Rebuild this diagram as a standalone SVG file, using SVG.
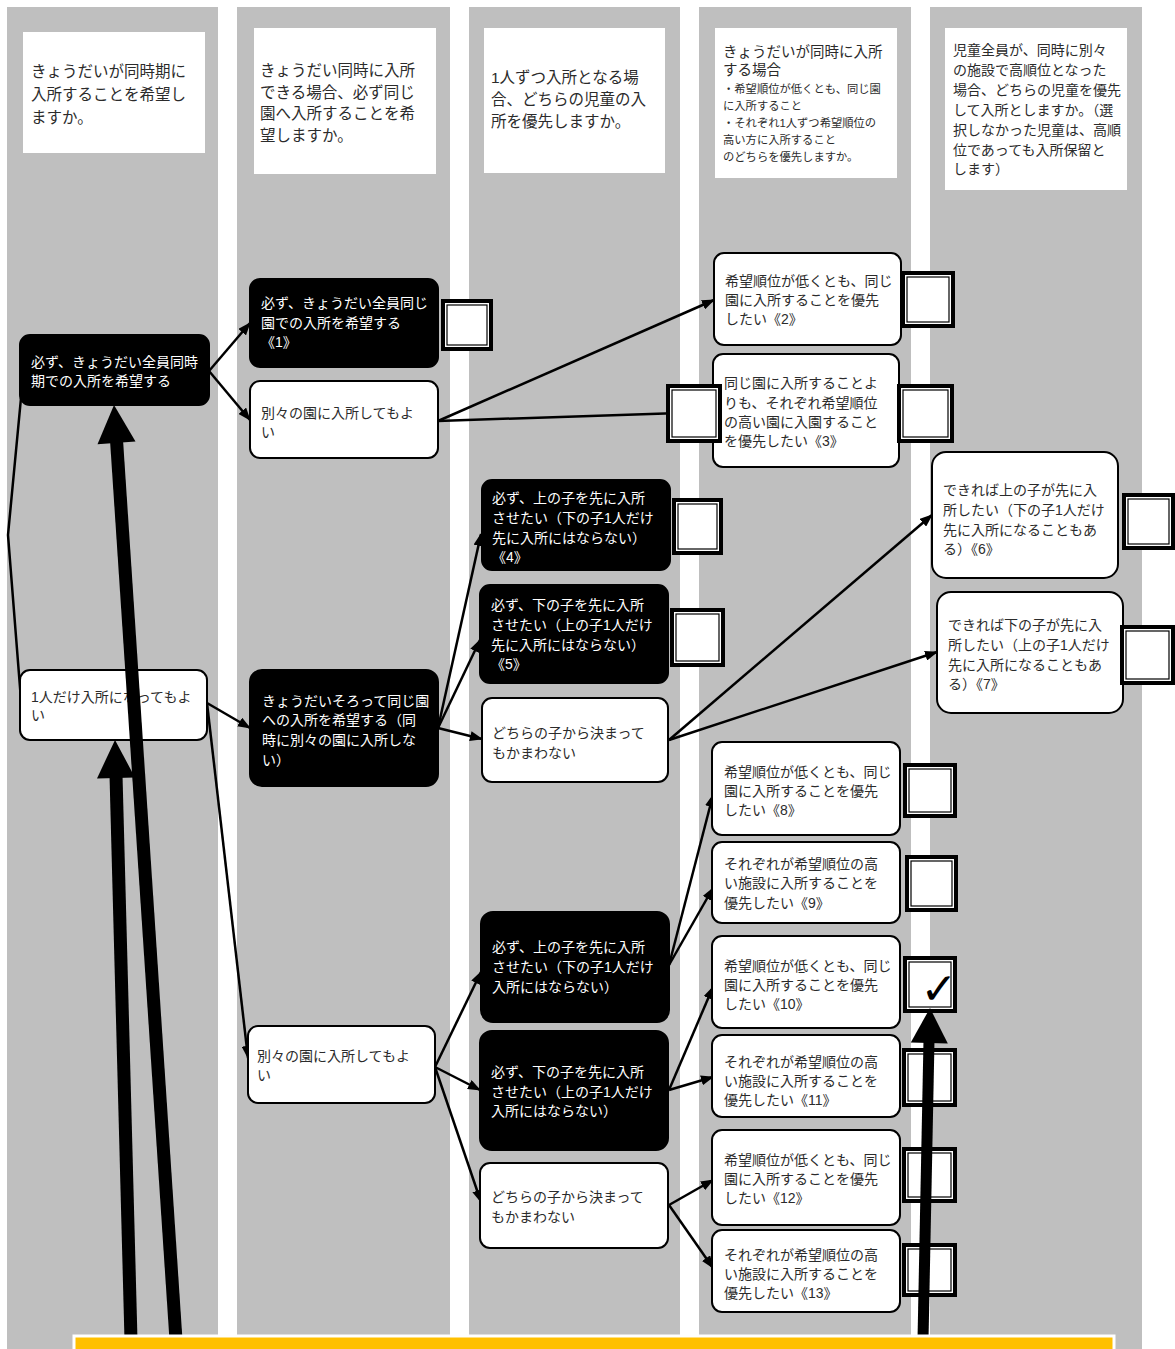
<svg xmlns="http://www.w3.org/2000/svg" width="1175" height="1349" viewBox="0 0 1175 1349">
<style>
text{font-family:'Liberation Sans','Noto Sans CJK JP',sans-serif;}
.lane{fill:#bfbfbf;}
.hdr{fill:#fff;}
.ht{font-size:15.5px;fill:#2b2b2b;}
.ht5{font-size:14px;fill:#2b2b2b;}
.hs{font-size:11.3px;fill:#2b2b2b;}
.nw{fill:#fff;stroke:#000;stroke-width:2;}
.nb{fill:#000;stroke:#000;stroke-width:2;}
.tw{font-size:14px;fill:#2b2b2b;}
.tb{font-size:14px;fill:#fff;}
.con{fill:none;stroke:#000;stroke-width:2.5;}
.arr{marker-end:url(#ah);}
.cbo{fill:#000;}
.cbw{fill:#fff;}
.cbi{fill:#fff;stroke:#000;stroke-width:1.2;}
.big{stroke:#000;stroke-width:13;fill:none;}
</style>
<defs>
<marker id="ah" markerUnits="userSpaceOnUse" markerWidth="13" markerHeight="10" refX="12" refY="5" orient="auto">
<path d="M0,0 L13,5 L0,10 z" fill="#000"/>
</marker>
</defs>
<rect x="0" y="0" width="1175" height="1349" fill="#fff"/>
<g id="lanes">
<rect class="lane" x="7" y="7" width="211" height="1342"/>
<rect class="lane" x="237" y="7" width="213" height="1342"/>
<rect class="lane" x="469" y="7" width="211" height="1342"/>
<rect class="lane" x="699" y="7" width="212" height="1342"/>
<rect class="lane" x="930" y="7" width="212" height="1342"/>
</g>
<g id="header1">
<rect class="hdr" x="23" y="32" width="182" height="121"/>
<text class="ht"><tspan x="31" y="76.5">きょうだいが同時期に</tspan><tspan x="31" y="99.5">入所することを希望し</tspan><tspan x="31" y="122.5">ますか。</tspan></text>
</g>
<g id="header2">
<rect class="hdr" x="254" y="28" width="182" height="146"/>
<text class="ht"><tspan x="260" y="76">きょうだい同時に入所</tspan><tspan x="260" y="97.5">できる場合、必ず同じ</tspan><tspan x="260" y="119">園へ入所することを希</tspan><tspan x="260" y="140.5">望しますか。</tspan></text>
</g>
<g id="header3">
<rect class="hdr" x="484" y="28" width="181" height="145"/>
<text class="ht"><tspan x="491" y="82.5">1人ずつ入所となる場</tspan><tspan x="491" y="104.5">合、どちらの児童の入</tspan><tspan x="491" y="127">所を優先しますか。</tspan></text>
</g>
<g id="header4">
<rect class="hdr" x="715" y="28" width="182" height="150"/>
<text class="ht5" style="font-size:14.5px"><tspan x="723" y="57">きょうだいが同時に入所</tspan><tspan x="723" y="75">する場合</tspan></text>
<text class="hs"><tspan x="723" y="93">・希望順位が低くとも、同じ園</tspan><tspan x="723" y="110">に入所すること</tspan><tspan x="723" y="127">・それぞれ1人ずつ希望順位の</tspan><tspan x="723" y="144">高い方に入所すること</tspan><tspan x="723" y="161">のどちらを優先しますか。</tspan></text>
</g>
<g id="header5">
<rect class="hdr" x="945" y="28" width="182" height="162"/>
<text class="ht5"><tspan x="953" y="55">児童全員が、同時に別々</tspan><tspan x="953" y="75">の施設で高順位となった</tspan><tspan x="953" y="95">場合、どちらの児童を優先</tspan><tspan x="953" y="115">して入所としますか。（選</tspan><tspan x="953" y="135">択しなかった児童は、高順</tspan><tspan x="953" y="155">位であっても入所保留と</tspan><tspan x="953" y="174">します）</tspan></text>
</g>
<g id="connectors">
<line class="con arr" x1="209" y1="371" x2="250" y2="323"/>
<line class="con arr" x1="209" y1="371" x2="250" y2="420"/>
<line class="con arr" x1="438" y1="421" x2="714" y2="300"/>
<line class="con" x1="438" y1="421" x2="680" y2="413"/>
<polyline class="con" points="21,398 8,535 21,700"/>
<line class="con arr" x1="207" y1="703" x2="250" y2="728"/>
<line class="con arr" x1="207" y1="703" x2="248" y2="1058"/>
<line class="con arr" x1="438" y1="728" x2="481" y2="534"/>
<line class="con arr" x1="438" y1="728" x2="480" y2="640"/>
<line class="con arr" x1="438" y1="728" x2="482" y2="739"/>
<line class="con arr" x1="669" y1="740" x2="932" y2="515"/>
<line class="con arr" x1="669" y1="740" x2="937" y2="652"/>
<line class="con arr" x1="435" y1="1067" x2="481" y2="972"/>
<line class="con arr" x1="435" y1="1067" x2="480" y2="1090"/>
<line class="con arr" x1="435" y1="1067" x2="481" y2="1202"/>
<line class="con arr" x1="669" y1="965" x2="713" y2="795"/>
<line class="con arr" x1="669" y1="965" x2="713" y2="888"/>
<line class="con arr" x1="669" y1="1090" x2="713" y2="987"/>
<line class="con arr" x1="669" y1="1090" x2="713" y2="1077"/>
<line class="con arr" x1="669" y1="1205" x2="713" y2="1180"/>
<line class="con arr" x1="669" y1="1205" x2="713" y2="1268"/>
</g>
<g id="n-sametime">
<rect class="nb" x="20" y="335" width="189" height="70" rx="10"/>
<text class="tb"><tspan x="31" y="367">必ず、きょうだい全員同時</tspan><tspan x="31" y="386">期での入所を希望する</tspan></text>
</g>
<g id="n-oneok">
<rect class="nw" x="20" y="670" width="187" height="70" rx="10"/>
<text class="tw"><tspan x="31" y="702">1人だけ入所になってもよ</tspan><tspan x="31" y="720">い</tspan></text>
</g>
<g id="n1">
<rect class="nb" x="250" y="279" width="188" height="88" rx="10"/>
<text class="tb"><tspan x="261" y="308">必ず、きょうだい全員同じ</tspan><tspan x="261" y="328">園での入所を希望する</tspan><tspan x="261" y="347">《1》</tspan></text>
</g>
<g id="n-betsu1">
<rect class="nw" x="250" y="381" width="188" height="77" rx="10"/>
<text class="tw"><tspan x="261" y="418">別々の園に入所してもよ</tspan><tspan x="261" y="437">い</tspan></text>
</g>
<g id="n2">
<rect class="nw" x="714" y="253" width="187" height="92" rx="10"/>
<text class="tw"><tspan x="725" y="286">希望順位が低くとも、同じ</tspan><tspan x="725" y="305">園に入所することを優先</tspan><tspan x="725" y="324">したい《2》</tspan></text>
</g>
<g id="n3">
<rect class="nw" x="713" y="354" width="186" height="113" rx="10"/>
<text class="tw"><tspan x="724" y="388">同じ園に入所することよ</tspan><tspan x="724" y="408">りも、それぞれ希望順位</tspan><tspan x="724" y="427">の高い園に入園すること</tspan><tspan x="724" y="446">を優先したい《3》</tspan></text>
</g>
<g id="n-sorotte">
<rect class="nb" x="250" y="670" width="188" height="116" rx="12"/>
<text class="tb"><tspan x="262" y="706">きょうだいそろって同じ園</tspan><tspan x="262" y="725">への入所を希望する（同</tspan><tspan x="262" y="745">時に別々の園に入所しな</tspan><tspan x="262" y="765">い）</tspan></text>
</g>
<g id="n4">
<rect class="nb" x="482" y="480" width="188" height="90" rx="10"/>
<text class="tb"><tspan x="492" y="503">必ず、上の子を先に入所</tspan><tspan x="492" y="523">させたい（下の子1人だけ</tspan><tspan x="492" y="543">先に入所にはならない）</tspan><tspan x="492" y="562">《4》</tspan></text>
</g>
<g id="n5">
<rect class="nb" x="480" y="585" width="188" height="98" rx="10"/>
<text class="tb"><tspan x="491" y="610">必ず、下の子を先に入所</tspan><tspan x="491" y="630">させたい（上の子1人だけ</tspan><tspan x="491" y="650">先に入所にはならない）</tspan><tspan x="491" y="669">《5》</tspan></text>
</g>
<g id="n-dochira1">
<rect class="nw" x="482" y="698" width="186" height="84" rx="10"/>
<text class="tw"><tspan x="492" y="738">どちらの子から決まって</tspan><tspan x="492" y="758">もかまわない</tspan></text>
</g>
<g id="n6">
<rect class="nw" x="932" y="452" width="186" height="126" rx="14"/>
<text class="tw"><tspan x="943" y="495">できれば上の子が先に入</tspan><tspan x="943" y="515">所したい（下の子1人だけ</tspan><tspan x="943" y="535">先に入所になることもあ</tspan><tspan x="943" y="554">る）《6》</tspan></text>
</g>
<g id="n7">
<rect class="nw" x="937" y="592" width="186" height="121" rx="14"/>
<text class="tw"><tspan x="948" y="630">できれば下の子が先に入</tspan><tspan x="948" y="650">所したい（上の子1人だけ</tspan><tspan x="948" y="670">先に入所になることもあ</tspan><tspan x="948" y="689">る）《7》</tspan></text>
</g>
<g id="n-betsu2">
<rect class="nw" x="248" y="1026" width="187" height="77" rx="10"/>
<text class="tw"><tspan x="257" y="1061">別々の園に入所してもよ</tspan><tspan x="257" y="1080">い</tspan></text>
</g>
<g id="n-ue">
<rect class="nb" x="481" y="912" width="188" height="110" rx="12"/>
<text class="tb"><tspan x="492" y="952">必ず、上の子を先に入所</tspan><tspan x="492" y="972">させたい（下の子1人だけ</tspan><tspan x="492" y="992">入所にはならない）</tspan></text>
</g>
<g id="n-shita">
<rect class="nb" x="480" y="1031" width="188" height="119" rx="12"/>
<text class="tb"><tspan x="491" y="1077">必ず、下の子を先に入所</tspan><tspan x="491" y="1097">させたい（上の子1人だけ</tspan><tspan x="491" y="1116">入所にはならない）</tspan></text>
</g>
<g id="n-dochira2">
<rect class="nw" x="480" y="1163" width="188" height="85" rx="10"/>
<text class="tw"><tspan x="491" y="1202">どちらの子から決まって</tspan><tspan x="491" y="1222">もかまわない</tspan></text>
</g>
<g id="n8">
<rect class="nw" x="712" y="742" width="188" height="93" rx="10"/>
<text class="tw"><tspan x="724" y="777">希望順位が低くとも、同じ</tspan><tspan x="724" y="796">園に入所することを優先</tspan><tspan x="724" y="815">したい《8》</tspan></text>
</g>
<g id="n9">
<rect class="nw" x="712" y="842" width="188" height="81" rx="10"/>
<text class="tw"><tspan x="724" y="869">それぞれが希望順位の高</tspan><tspan x="724" y="888">い施設に入所することを</tspan><tspan x="724" y="908">優先したい《9》</tspan></text>
</g>
<g id="n10">
<rect class="nw" x="712" y="936" width="188" height="92" rx="10"/>
<text class="tw"><tspan x="724" y="971">希望順位が低くとも、同じ</tspan><tspan x="724" y="990">園に入所することを優先</tspan><tspan x="724" y="1009">したい《10》</tspan></text>
</g>
<g id="n11">
<rect class="nw" x="712" y="1035" width="188" height="82" rx="10"/>
<text class="tw"><tspan x="724" y="1067">それぞれが希望順位の高</tspan><tspan x="724" y="1086">い施設に入所することを</tspan><tspan x="724" y="1105">優先したい《11》</tspan></text>
</g>
<g id="n12">
<rect class="nw" x="712" y="1130" width="188" height="95" rx="10"/>
<text class="tw"><tspan x="724" y="1165">希望順位が低くとも、同じ</tspan><tspan x="724" y="1184">園に入所することを優先</tspan><tspan x="724" y="1203">したい《12》</tspan></text>
</g>
<g id="n13">
<rect class="nw" x="712" y="1230" width="188" height="82" rx="10"/>
<text class="tw"><tspan x="724" y="1260">それぞれが希望順位の高</tspan><tspan x="724" y="1279">い施設に入所することを</tspan><tspan x="724" y="1298">優先したい《13》</tspan></text>
</g>
<g id="checkboxes">
<g id="cb1"><rect class="cbo" x="441" y="299" width="52" height="52"/><rect class="cbw" x="445" y="303" width="44" height="44"/><rect class="cbi" x="447" y="305" width="40" height="40"/></g>
<g id="cb2"><rect class="cbo" x="901" y="271" width="54" height="57"/><rect class="cbw" x="905" y="275" width="46" height="49"/><rect class="cbi" x="907" y="277" width="42" height="45"/></g>
<g id="cb3l"><rect class="cbo" x="666" y="384" width="56" height="59"/><rect class="cbw" x="670" y="388" width="48" height="51"/><rect class="cbi" x="672" y="390" width="44" height="47"/></g>
<g id="cb3r"><rect class="cbo" x="897" y="384" width="57" height="59"/><rect class="cbw" x="901" y="388" width="49" height="51"/><rect class="cbi" x="903" y="390" width="45" height="47"/></g>
<g id="cb4"><rect class="cbo" x="672" y="498" width="51" height="57"/><rect class="cbw" x="676" y="502" width="43" height="49"/><rect class="cbi" x="678" y="504" width="39" height="45"/></g>
<g id="cb5"><rect class="cbo" x="670" y="608" width="55" height="59"/><rect class="cbw" x="674" y="612" width="47" height="51"/><rect class="cbi" x="676" y="614" width="43" height="47"/></g>
<g id="cb6"><rect class="cbo" x="1122" y="493" width="53" height="57"/><rect class="cbw" x="1126" y="497" width="45" height="49"/><rect class="cbi" x="1128" y="499" width="41" height="45"/></g>
<g id="cb7"><rect class="cbo" x="1120" y="625" width="55" height="60"/><rect class="cbw" x="1124" y="629" width="47" height="52"/><rect class="cbi" x="1126" y="631" width="43" height="48"/></g>
<g id="cb8"><rect class="cbo" x="903" y="763" width="54" height="55"/><rect class="cbw" x="907" y="767" width="46" height="47"/><rect class="cbi" x="909" y="769" width="42" height="43"/></g>
<g id="cb9"><rect class="cbo" x="905" y="855" width="53" height="57"/><rect class="cbw" x="909" y="859" width="45" height="49"/><rect class="cbi" x="911" y="861" width="41" height="45"/></g>
<g id="cb10"><rect class="cbo" x="903" y="956" width="54" height="57"/><rect class="cbw" x="907" y="960" width="46" height="49"/><rect class="cbi" x="909" y="962" width="42" height="45"/></g>
<g id="cb11"><rect class="cbo" x="902" y="1048" width="55" height="59"/><rect class="cbw" x="906" y="1052" width="47" height="51"/><rect class="cbi" x="908" y="1054" width="43" height="47"/></g>
<g id="cb12"><rect class="cbo" x="902" y="1147" width="55" height="56"/><rect class="cbw" x="906" y="1151" width="47" height="48"/><rect class="cbi" x="908" y="1153" width="43" height="44"/></g>
<g id="cb13"><rect class="cbo" x="902" y="1243" width="55" height="54"/><rect class="cbw" x="906" y="1247" width="47" height="46"/><rect class="cbi" x="908" y="1249" width="43" height="42"/></g>
</g>
<text id="check" x="939" y="1004" text-anchor="middle" style="font-family:'DejaVu Sans',sans-serif;font-size:44px;fill:#000">✓</text>
<g id="big-arrows">
<line class="big" x1="176" y1="1340" x2="116.5" y2="440"/>
<polygon points="114,405 135.5,441.6 97.5,444.2" fill="#000"/>
<line class="big" x1="131" y1="1340" x2="116" y2="775"/>
<polygon points="115,740 135,777.5 97,778.5" fill="#000"/>
<line class="big" style="stroke-width:11" x1="923" y1="1340" x2="929" y2="1040"/>
<polygon points="930,1008 947.8,1043.4 910.8,1042.6" fill="#000"/>
</g>
<rect id="footer-bar" x="74" y="1336" width="1040" height="20" fill="#ffc000" stroke="#fff" stroke-width="3"/>
</svg>
